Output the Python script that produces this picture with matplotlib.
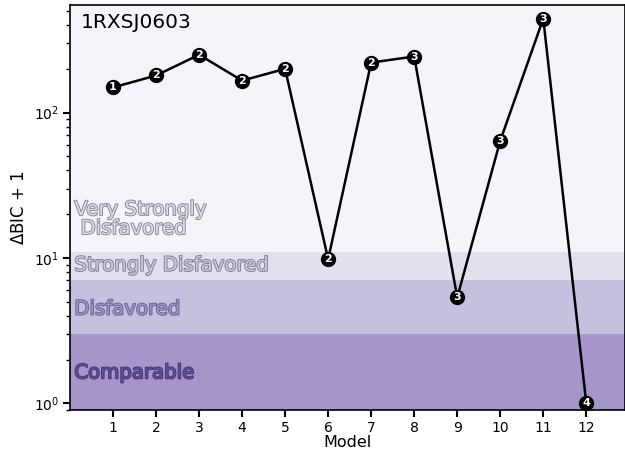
import numpy as np
import matplotlib
matplotlib.use("Agg")
import matplotlib.pyplot as plt
import matplotlib.patheffects as pe

# model index, delta BIC + 1 and number of components per model
models = [1, 2, 3, 4, 5, 6, 7, 8, 9, 10, 11, 12]
dbic = [149, 180, 250, 166, 200, 9.8, 221, 243, 5.35, 64, 443, 1.0]
ncomp = [1, 2, 2, 2, 2, 2, 2, 3, 3, 3, 3, 4]

# evidence bands (delta BIC + 1 limits)
band_edges = [0.9, 3, 7, 11, 550]
band_colors = ["#a695c8", "#c4c0de", "#e1e0ee", "#f5f4fa"]
band_names = ["Comparable", "Disfavored", "Strongly Disfavored", "Very Strongly\n Disfavored"]
band_text_y = [1.62, 4.45, 8.9, 18.5]
text_fill = ["#5d4d95", "#9a92c2", "#c9c8dc", "#dcdbe8"]
text_edge = ["#47397a", "#6a6391", "#7d7c8f", "#85848f"]

fig = plt.figure(figsize=(6.25, 4.53), dpi=100)
ax = fig.add_axes([0.112, 0.095, 0.888, 0.894])

for i in range(4):
    ax.axhspan(band_edges[i], band_edges[i + 1], color=band_colors[i], lw=0, zorder=0)
    t = ax.text(0.1, band_text_y[i], band_names[i], fontsize=14.2, color=text_fill[i],
                va="center", ha="left", zorder=1, linespacing=1.0)
    t.set_path_effects([pe.Stroke(linewidth=1.3, foreground=text_edge[i]), pe.Normal()])

ax.plot(models, dbic, color="black", lw=1.8, zorder=3, clip_on=False)
ax.plot(models, dbic, "o", color="black", ms=10, zorder=4, clip_on=False)
for x, y, n in zip(models, dbic, ncomp):
    ax.text(x, y, str(n), color="white", fontsize=8, fontweight="bold",
            ha="center", va="center", zorder=5, clip_on=False)

ax.set_yscale("log")
ax.set_ylim(band_edges[0], band_edges[-1])
ax.set_xlim(0, 12.9)
ax.set_xticks(models)
ax.set_xlabel("Model", fontsize=11.5, labelpad=0)
ax.set_ylabel(r"$\Delta$BIC + 1", fontsize=12)
ax.tick_params(axis="both", which="major", length=5, width=1.5, labelsize=10, pad=3)
ax.tick_params(axis="y", which="minor", length=3, width=1)
for s in ax.spines.values():
    s.set_linewidth(1.2)

ax.text(0.02, 0.98, "1RXSJ0603", transform=ax.transAxes, fontsize=14.5,
        ha="left", va="top", zorder=6)

fig.savefig("out.png", dpi=100)
